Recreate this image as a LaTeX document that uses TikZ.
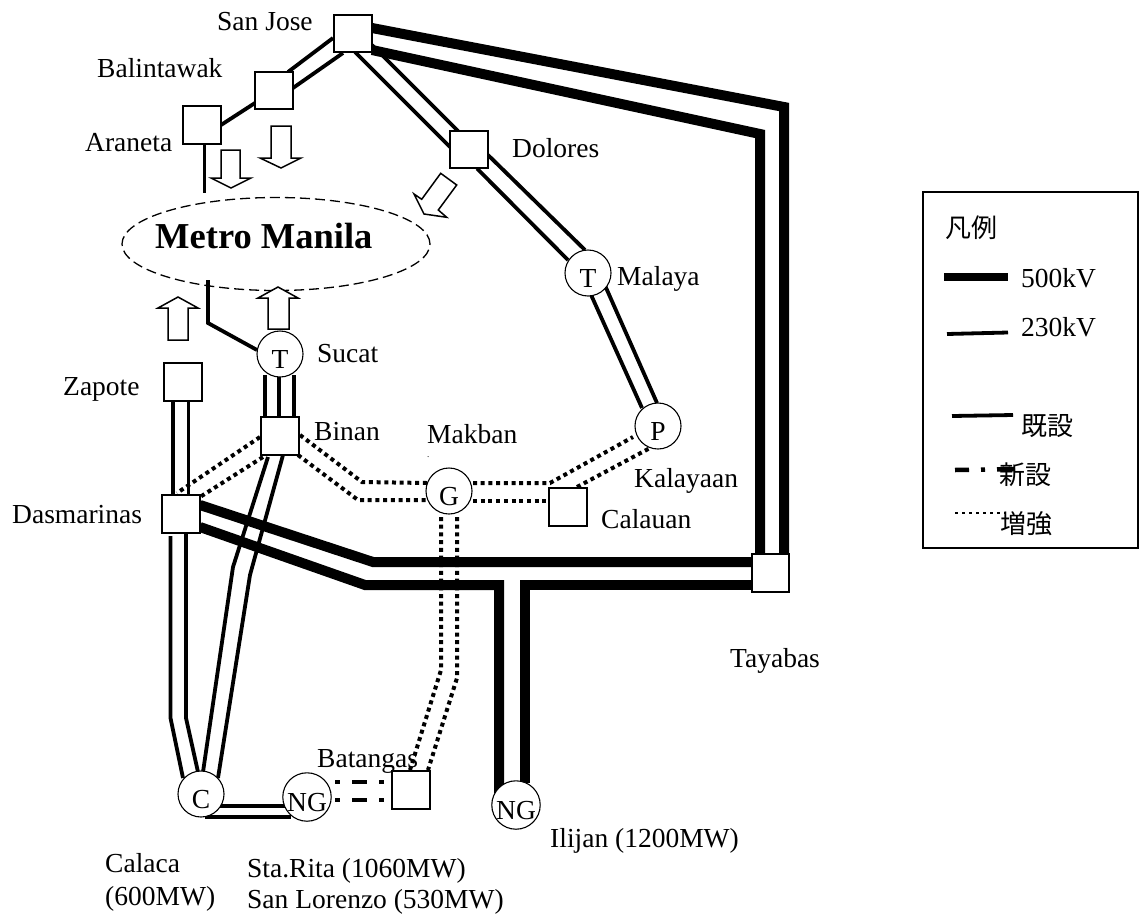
\documentclass[tikz,border=0pt]{standalone}
\usepackage{fontspec}
\setmainfont{Liberation Serif}
\newfontfamily\cjkfont{Noto Sans CJK JP}
\usetikzlibrary{shapes.geometric}
\pgfdeclarelayer{bg}
\pgfsetlayers{bg,main}
\tikzset{
  lbl/.style={anchor=base west,inner sep=0pt,font=\fontsize{27.5}{33}\selectfont},
  jplbl/.style={anchor=base west,inner sep=0pt,font=\cjkfont\fontsize{26}{30}\selectfont},
  sub/.style={draw=black,fill=white,line width=1.6pt,rectangle,minimum size=37.5pt,inner sep=0pt},
  plant/.style={draw=black,fill=white,line width=1.1pt,circle,minimum size=46pt,inner sep=0pt,text height=28pt,text depth=0pt,font=\fontsize{27.5}{33}\selectfont},
  kvhi/.style={line width=10pt,miter limit=10},
  kvlo/.style={line width=3.8pt},
  dotline/.style={line width=4pt,dash pattern=on 4pt off 3.7pt},
  newline/.style={line width=4.5pt,dash pattern=on 5pt off 12pt on 15pt off 12pt},
  blockarrow/.style={draw=black,fill=white,line width=1.5pt,miter limit=10},
}
\begin{document}
\begin{tikzpicture}[x=1pt,y=-1pt]
\useasboundingbox (0,0) rectangle (1139,918);
% substations
\node[sub] (sj) at (353,33.5) {};
\node[sub] (bal) at (274,90.5) {};
\node[sub] (ara) at (202,125) {};
\node[sub] (dol) at (469,149.5) {};
\node[sub] (zap) at (183,382) {};
\node[sub] (bin) at (280,436) {};
\node[sub] (das) at (181,514) {};
\node[sub] (cal) at (568,507) {};
\node[sub] (tay) at (770.5,573) {};
\node[sub] (bat) at (411,790) {};
% plants
\node[plant] (suc) at (280,354) {T};
\node[plant] (mal) at (588,273) {T};
\node[plant] (pp) at (658,426) {P};
\node[plant] (gg) at (449,491) {G};
\node[plant] (cc) at (201,794) {C};
\node[plant] (ngb) at (307,797) {NG};
\node[plant] (ngi) at (516,805) {NG};
% Metro Manila
\node[draw=black,line width=1.3pt,dash pattern=on 10pt off 5pt,ellipse,minimum width=308pt,minimum height=93pt,inner sep=0pt] (mm) at (276,244) {};
\node[anchor=base west,inner sep=0pt,font=\bfseries\fontsize{36.5}{40}\selectfont] (mmt) at (155,248) {Metro Manila};
\coordinate (arafree) at (204.5,193);
\coordinate (sucfree) at (208,280);
\begin{pgfonlayer}{bg}
% 500 kV
\draw[kvhi] ([shift={(19,-5.5)}]sj.center) -- (784,107) -- ([shift={(13.5,-19)}]tay.center);
\draw[kvhi] ([shift={(19,16.5)}]sj.center) -- (760,134) -- ([shift={(-10.5,-19)}]tay.center);
\draw[kvhi] ([shift={(19,-9)}]das.center) -- (373,562) -- ([shift={(-19,-11)}]tay.center);
\draw[kvhi] ([shift={(19,13)}]das.center) -- (365,585) -- (499,585) -- ([shift={(-17,-12)}]ngi.center);
\draw[kvhi] ([shift={(9,-22)}]ngi.center) -- (525,585) -- ([shift={(-19,12)}]tay.center);
% 230 kV
\draw[kvlo] ([shift={(-20,4.5)}]sj.center) -- ([shift={(14,-18.5)}]bal.center);
\draw[kvlo] ([shift={(-10,19.5)}]sj.center) -- ([shift={(19,-2.5)}]bal.center);
\draw[kvlo] ([shift={(-19,12.5)}]bal.center) -- ([shift={(19,0)}]ara.center);
\draw[kvlo] ([shift={(2.5,19)}]ara.center) -- (arafree);
\draw[kvlo] ([shift={(2,18.5)}]sj.center) -- ([shift={(-19,-2.5)}]dol.center);
\draw[kvlo] ([shift={(19,11.5)}]sj.center) -- ([shift={(-11,-18.5)}]dol.center);
\draw[kvlo] ([shift={(19,5.5)}]dol.center) -- ([shift={(-3,-23)}]mal.center);
\draw[kvlo] ([shift={(8,19)}]dol.center) -- ([shift={(-20,-13)}]mal.center);
\draw[kvlo] ([shift={(2.2,20)}]mal.center) -- ([shift={(-16,-18)}]pp.center);
\draw[kvlo] ([shift={(16.8,12)}]mal.center) -- ([shift={(-1,-23)}]pp.center);
\draw[kvlo] (sucfree) -- (208,323) -- ([shift={(-23,-4)}]suc.center);
\draw[kvlo] ([shift={(-15,21)}]suc.center) -- ([shift={(-15,-19)}]bin.center);
\draw[kvlo] ([shift={(-1,23)}]suc.center) -- ([shift={(-1,-19)}]bin.center);
\draw[kvlo] ([shift={(14,21)}]suc.center) -- ([shift={(14,-19)}]bin.center);
\draw[kvlo] ([shift={(-10,19)}]zap.center) -- ([shift={(-8,-19)}]das.center);
\draw[kvlo] ([shift={(5.5,19)}]zap.center) -- ([shift={(7.5,-19)}]das.center);
\draw[kvlo] ([shift={(-10.5,22)}]das.center) -- (170.5,718) -- ([shift={(-18,-16)}]cc.center);
\draw[kvlo] ([shift={(5,19)}]das.center) -- (186,718) -- ([shift={(-3,-22)}]cc.center);
\draw[kvlo] ([shift={(-12,21)}]bin.center) -- (233,567) -- ([shift={(2,-22)}]cc.center);
\draw[kvlo] ([shift={(3,19)}]bin.center) -- (250,575) -- ([shift={(17,-16)}]cc.center);
\draw[kvlo] ([shift={(19,12)}]cc.center) -- ([shift={(-20,9)}]ngb.center);
\draw[kvlo] ([shift={(4,23)}]cc.center) -- ([shift={(-16,20)}]ngb.center);
% upgraded (dotted)
\draw[dotline] ([shift={(-20,1)}]bin.center) -- ([shift={(-4,-21)}]das.center);
\draw[dotline] ([shift={(-17,21)}]bin.center) -- ([shift={(19,-17)}]das.center);
\draw[dotline] ([shift={(20,-1)}]bin.center) -- (362,482) -- ([shift={(-22,-8)}]gg.center);
\draw[dotline] ([shift={(18,19)}]bin.center) -- (358,500) -- ([shift={(-22,9)}]gg.center);
\draw[dotline] ([shift={(24,-8)}]gg.center) -- (550,483) -- ([shift={(-25,11)}]pp.center);
\draw[dotline] ([shift={(24,10)}]gg.center) -- ([shift={(-19,-6)}]cal.center);
\draw[dotline] ([shift={(9,-20)}]cal.center) -- ([shift={(-8,22)}]pp.center);
\draw[dotline] ([shift={(-8,26)}]gg.center) -- (441,670) -- ([shift={(-1,-20)}]bat.center);
\draw[dotline] ([shift={(8,26)}]gg.center) -- (457,678) -- ([shift={(17,-20)}]bat.center);
% new (dash-dot)
\draw[newline] ([shift={(28,-15)}]ngb.center) -- ([shift={(-19,-8)}]bat.center);
\draw[newline] ([shift={(28,3)}]ngb.center) -- ([shift={(-19,10)}]bat.center);
\end{pgfonlayer}
% block arrows
\draw[blockarrow] (271,126) -- (291,126) -- (291,158) -- (301,158) -- (281,168) -- (260,158) -- (271,158) -- cycle;
\draw[blockarrow] (221,150) -- (240,150) -- (240,178) -- (251,178) -- (231,188) -- (211,178) -- (221,178) -- cycle;
\draw[blockarrow] (440.7,173.3) -- (456.7,185) -- (438.3,210) -- (446.7,217.3) -- (424,214) -- (414,194) -- (421.7,199.3) -- cycle;
\draw[blockarrow] (168,340) -- (188,340) -- (188,308) -- (198,308) -- (178,297) -- (158,308) -- (168,308) -- cycle;
\draw[blockarrow] (268,329) -- (289,329) -- (289,298) -- (298,298) -- (278,287) -- (258,298) -- (268,298) -- cycle;
% labels
\node[lbl] (t1) at (217,30) {San Jose};
\node[lbl] (t2) at (97,77) {Balintawak};
\node[lbl] (t3) at (85,151) {Araneta};
\node[lbl] (t4) at (512,157) {Dolores};
\node[lbl] (t5) at (617,285) {Malaya};
\node[lbl] (t6) at (317,362) {Sucat};
\node[lbl] (t7) at (63,395) {Zapote};
\node[lbl] (t8) at (314,440) {Binan};
\node[lbl] (t9) at (427,443) {Makban};
\node[lbl,font=\fontsize{9}{9}\selectfont] (t9b) at (427,457.5) {.};
\node[lbl] (t10) at (634,487) {Kalayaan};
\node[lbl] (t11) at (601,528) {Calauan};
\node[lbl] (t12) at (12,523) {Dasmarinas};
\node[lbl] (t13) at (730,667) {Tayabas};
\node[lbl] (t14) at (317,767) {Batangas};
\node[lbl] (t15) at (105,872) {Calaca};
\node[lbl] (t16) at (105,905) {(600MW)};
\node[lbl] (t17) at (247,877) {Sta.Rita (1060MW)};
\node[lbl] (t18) at (247,908) {San Lorenzo (530MW)};
\node[lbl] (t19) at (550,847) {Ilijan (1200MW)};
% legend
\node[draw=black,line width=1.4pt,rectangle,minimum width=215pt,minimum height=356pt,inner sep=0pt] (leg) at (1030.5,370) {};
\node[jplbl] (l0) at (945,237) {凡例};
\coordinate (a1) at (944,277); \coordinate (b1) at (1008,277);
\coordinate (a2) at (947,334); \coordinate (b2) at (1008,332.5);
\coordinate (a3) at (952,416); \coordinate (b3) at (1013,415);
\coordinate (a4) at (955,470); \coordinate (b4) at (1015,469);
\coordinate (a5) at (955,513); \coordinate (b5) at (1005,513);
\draw[line width=8pt] (a1) -- (b1);
\draw[line width=3.8pt] (a2) -- (b2);
\draw[line width=3.8pt] (a3) -- (b3);
\draw[line width=4.5pt,dash pattern=on 14pt off 12pt on 4pt off 12pt on 18pt] (a4) -- (b4);
\draw[line width=2.2pt,dash pattern=on 2.5pt off 4.5pt] (a5) -- (b5);
\node[lbl] (l1) at (1021,287) {500kV};
\node[lbl] (l2) at (1021,336) {230kV};
\node[jplbl] (l3) at (1021,435) {既設};
\node[jplbl] (l4) at (999,484) {新設};
\node[jplbl] (l5) at (1000,533) {増強};
\end{tikzpicture}
\end{document}
